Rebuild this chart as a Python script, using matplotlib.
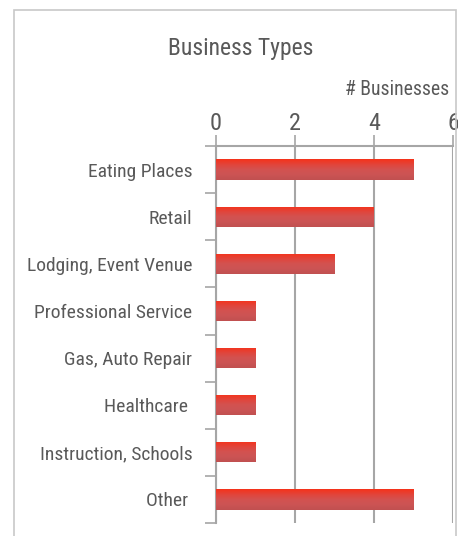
import numpy as np
import matplotlib
matplotlib.use("Agg")
import matplotlib.pyplot as plt
from matplotlib.colors import LinearSegmentedColormap
from matplotlib.patches import Rectangle

# Business counts per category
categories = [
    "Eating Places",
    "Retail",
    "Lodging, Event Venue",
    "Professional Service",
    "Gas, Auto Repair",
    "Healthcare ",
    "Instruction, Schools",
    "Other ",
]
counts = [5, 4, 3, 1, 1, 1, 1, 5]
x_ticks = [0, 2, 4, 6]

text_color = "#595959"
grid_color = "#a6a6a6"

# condensed face to stand in for the original narrow typeface
plt.rcParams["font.family"] = ["Roboto Condensed", "DejaVu Sans"]

fig = plt.figure(figsize=(4.58, 5.36), dpi=100)

# outer chart frame
fig.patches.append(Rectangle((14 / 458, -0.05), 442 / 458, 1.05 - 10 / 536,
                             transform=fig.transFigure, fill=False,
                             edgecolor="#c8c8c8", linewidth=1.2))

ax = fig.add_axes([216 / 458, 13 / 536, 237 / 458, 377 / 536])

pos = np.arange(len(categories))
bars = ax.barh(pos, counts, height=0.43, color="none", zorder=3)

# red gradient fill for each bar
cmap = LinearSegmentedColormap.from_list(
    "bar", ["#f5321a", "#e2443a", "#d35250", "#cc5454", "#c05050"])
grad = np.linspace(0, 1, 64).reshape(-1, 1)
for b in bars:
    x0, y0 = b.get_x(), b.get_y()
    w, h = b.get_width(), b.get_height()
    im = ax.imshow(grad, cmap=cmap, aspect="auto", zorder=3,
                   extent=(x0, x0 + w, y0 + h, y0), interpolation="bicubic")
    im.set_clip_path(b)

ax.set_xlim(0, 6)
ax.set_ylim(len(categories) - 0.5, -0.5)

ax.xaxis.tick_top()
ax.set_xticks(x_ticks)
ax.xaxis.set_label_position("top")
ax.set_xlabel("# Businesses", fontsize=14.2, color=text_color)
ax.xaxis.set_label_coords(0.764, 1.134)
ax.tick_params(axis="x", length=8, width=1.2, color=grid_color,
               labelsize=17.5, labelcolor=text_color, pad=0)

ax.set_yticks(pos)
ax.set_yticklabels(categories)
ax.set_yticks(np.arange(len(categories) + 1) - 0.5, minor=True)
ax.tick_params(axis="y", which="major", length=0, pad=17,
               labelsize=14, labelcolor=text_color)
ax.tick_params(axis="y", which="minor", length=8, width=1.2, color=grid_color)

ax.grid(axis="x", color=grid_color, linewidth=1.5, zorder=0)
ax.set_axisbelow(True)
for side in ["right", "bottom"]:
    ax.spines[side].set_visible(False)
for side in ["top", "left"]:
    ax.spines[side].set_color(grid_color)
    ax.spines[side].set_linewidth(1.5)

fig.text(241 / 458, 1 - 48 / 536, "Business Types", ha="center", va="center",
         fontsize=17, color=text_color)

fig.savefig("out.png", dpi=100)
